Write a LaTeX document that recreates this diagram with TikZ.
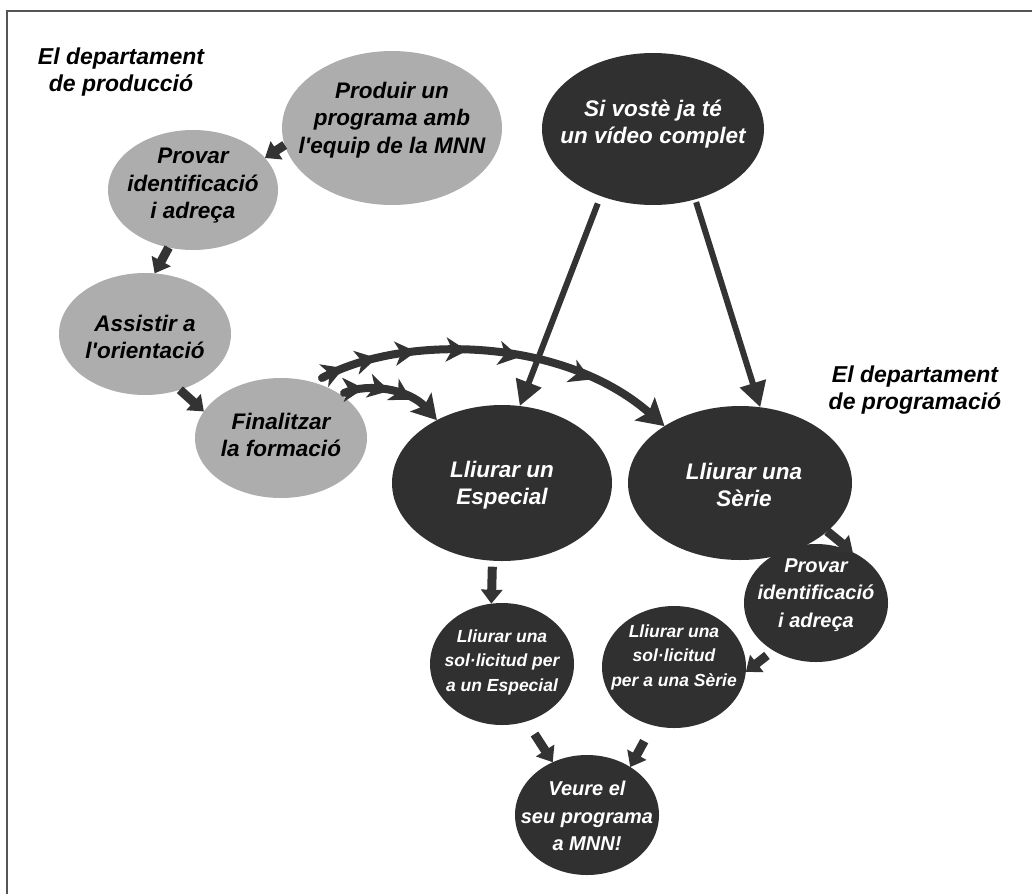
\documentclass[tikz,border=0pt]{standalone}
\usepackage{fontspec}
\setmainfont{Liberation Sans}
\usetikzlibrary{shapes.geometric,arrows.meta,decorations.markings,calc}
\definecolor{darkfill}{HTML}{303030}
\definecolor{grayfill}{HTML}{ADADAD}
\definecolor{arrowc}{HTML}{333333}
\definecolor{framec}{HTML}{555555}
\tikzset{
  midtip/.tip={Stealth[width=24pt,length=21pt,inset=6pt]},
}
\begin{document}
\begin{tikzpicture}[x=1pt,y=-1pt,
  grayell/.style 2 args={ellipse, fill=grayfill, draw=none, inner sep=0pt, outer sep=0pt, minimum width=#1, minimum height=#2},
  darkell/.style 2 args={ellipse, fill=darkfill, draw=none, inner sep=0pt, outer sep=0pt, minimum width=#1, minimum height=#2},
  bigtxt/.style={align=center, inner sep=0pt, font=\fontsize{22.5}{27.5}\selectfont\bfseries\itshape},
  midtxt/.style={align=center, inner sep=0pt, font=\fontsize{20}{27.5}\selectfont\bfseries\itshape},
  smalltxt/.style={align=center, inner sep=0pt, font=\fontsize{17.5}{24.5}\selectfont\bfseries\itshape},
  blockarrow/.style={draw=arrowc, line width=9pt, -{Triangle[width=21pt,length=14pt]}},
  longarrow/.style={draw=arrowc, line width=6pt, -{Triangle[width=26pt,length=25pt]}},
  curvearrow/.style={draw=arrowc, color=arrowc, line width=8pt, line cap=round},
]
\useasboundingbox (0,0) rectangle (1032,894);
\fill[white] (0,0) rectangle (1032,894);
\draw[framec, line width=2pt] (7,894) -- (7,11) -- (1032,11);

% ellipses
\node[grayell={220pt}{154pt}] (produir) at (392,128) {};
\node[grayell={170pt}{120pt}] (provar1) at (193,190) {};
\node[grayell={172pt}{122pt}] (assistir) at (145,334) {};
\node[grayell={172pt}{120pt}] (finalitzar) at (281,438) {};
\node[darkell={222pt}{152pt}] (sivoste) at (653,129) {};
\node[darkell={220pt}{156pt}] (especial) at (502,483) {};
\node[darkell={224pt}{154pt}] (serie) at (740,483) {};
\node[darkell={144pt}{118pt}] (provar2) at (816,603) {};
\node[darkell={144pt}{122pt}] (sol1) at (502,664) {};
\node[darkell={144pt}{122pt}] (sol2) at (674,667) {};
\node[darkell={144pt}{120pt}] (veure) at (587,815) {};

% texts
\node[bigtxt, text=black] (produir-t) at ($(produir)+(0,-8)$) {Produir un\\programa amb\\l\textquotesingle equip de la MNN};
\node[bigtxt, text=black] (provar1-t) at ($(provar1)+(0,-4)$) {Provar\\identificació\\i adreça};
\node[bigtxt, text=black] (assistir-t) at ($(assistir)+(0,3)$) {Assistir a\\l\textquotesingle orientació};
\node[bigtxt, text=black] (finalitzar-t) at ($(finalitzar)+(0,-3)$) {Finalitzar\\la formació};
\node[bigtxt, text=white] (sivoste-t) at ($(sivoste)+(0,-5)$) {Si vostè ja té\\un vídeo complet};
\node[bigtxt, text=white] (especial-t) at ($(especial)+(0,2)$) {Lliurar un\\Especial};
\node[bigtxt, text=white] (serie-t) at ($(serie)+(4,2)$) {Lliurar una\\Sèrie};
\node[midtxt, text=white] (provar2-t) at ($(provar2)+(0,-8)$) {Provar\\identificació\\i adreça};
\node[smalltxt, text=white] (sol1-t) at ($(sol1)+(0,-2)$) {Lliurar una\\sol·licitud per\\a un Especial};
\node[smalltxt, text=white] (sol2-t) at ($(sol2)+(0,-10)$) {Lliurar una\\sol·licitud\\per a una Sèrie};
\node[midtxt, text=white] (veure-t) at ($(veure)+(0,1)$) {Veure el\\seu programa\\a MNN!};

% department labels
\node[align=center, inner sep=0pt, font=\fontsize{23}{27}\selectfont\bfseries\itshape] (deptprod) at (121,72) {El departament\\de producció};
\node[align=center, inner sep=0pt, font=\fontsize{23}{27}\selectfont\bfseries\itshape] (deptprog) at (915,390) {El departament\\de programació};

% short block arrows
\draw[blockarrow] (produir.189) -- (provar1.24);
\draw[blockarrow] (provar1.247) -- (assistir.81);
\draw[blockarrow] (assistir.302) -- (finalitzar.161);
\draw[blockarrow, shorten <=6pt] (especial.263) -- (sol1.100);
\draw[blockarrow] (serie.331) -- (provar2.54);
\draw[blockarrow, shorten <=8pt] (provar2.228) -- (sol2.356);
\draw[blockarrow, shorten <=15pt] (sol1.293) -- (veure.123);
\draw[blockarrow, shorten <=18pt] (sol2.250) -- (veure.48);

% long arrows from "Si vostè"
\draw[longarrow, shorten <=8pt] (sivoste.232) -- (especial.77);
\draw[longarrow, shorten <=3pt] (sivoste.301) -- (serie.75);

% curved arrows from "Finalitzar"
\coordinate (c1) at (322,378);
\coordinate (c2) at (344,393);
\draw[curvearrow, -{Stealth[width=30pt,length=26pt,inset=5pt]},
  postaction={decorate},
  decoration={markings,
    mark=at position 0.065 with {\arrow{midtip}},
    mark=at position 0.16 with {\arrow{midtip}},
    mark=at position 0.27 with {\arrow{midtip}},
    mark=at position 0.41 with {\arrow{midtip}},
    mark=at position 0.555 with {\arrow{midtip}},
    mark=at position 0.76 with {\arrow{midtip}}}]
  (c1) .. controls (400,335) and (560,335) .. (serie.143);
\draw[curvearrow, -{Stealth[width=28pt,length=24pt,inset=5pt]},
  postaction={decorate},
  decoration={markings,
    mark=at position 0.2 with {\arrow{midtip}},
    mark=at position 0.45 with {\arrow{midtip}},
    mark=at position 0.68 with {\arrow{midtip}}}]
  (c2) .. controls (370,382) and (410,390) .. (especial.136);
\end{tikzpicture}
\end{document}
